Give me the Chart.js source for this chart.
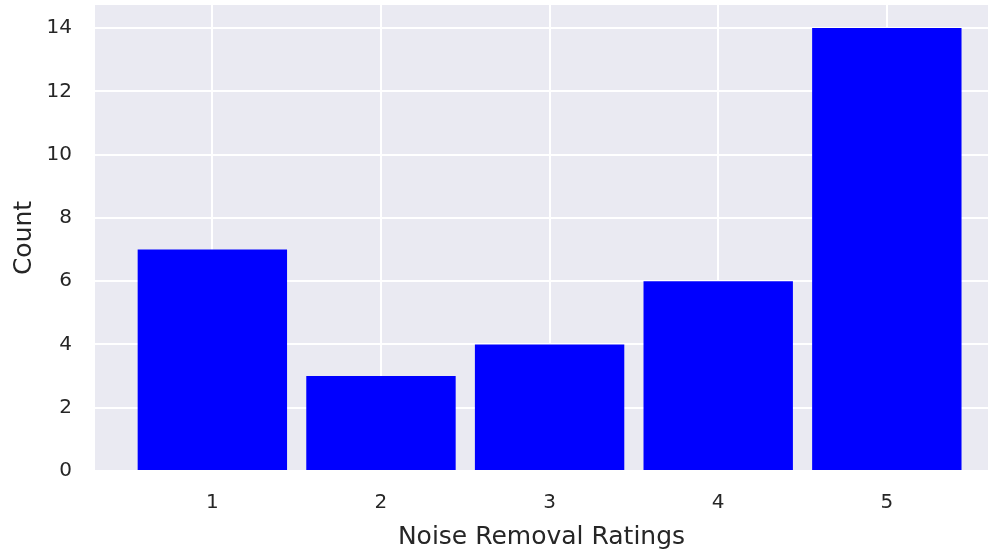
<!DOCTYPE html>
<html>
<head>
<meta charset="utf-8">
<script src="https://cdn.jsdelivr.net/npm/chart.js@4"></script>
<style>
  html, body { margin: 0; padding: 0; background: #ffffff; }
  #wrap { width: 988px; height: 552px; position: relative; }
</style>
</head>
<body>
<div id="wrap"><canvas id="c"></canvas></div>
<script>
// Data
const ratings = [1, 2, 3, 4, 5];
const counts = [7, 3, 4, 6, 14];
const yTicks = [0, 2, 4, 6, 8, 10, 12, 14];
const xTitle = "Noise Removal Ratings";
const yTitle = "Count";

const textColor = "#262626";
const fontFamily = "'DejaVu Sans', sans-serif";

const plotBg = {
  id: "plotBg",
  beforeDraw(chart) {
    const { ctx, chartArea: a } = chart;
    ctx.save();
    ctx.fillStyle = "#EAEAF2";
    ctx.fillRect(a.left, a.top, a.right - a.left, a.bottom - a.top);
    ctx.restore();
  }
};

new Chart(document.getElementById("c"), {
  type: "bar",
  data: {
    datasets: [{
      data: ratings.map((r, i) => ({ x: r, y: counts[i] })),
      backgroundColor: "#0000FF",
      borderWidth: 0,
      barPercentage: 0.886,
      categoryPercentage: 1.0
    }]
  },
  options: {
    responsive: true,
    maintainAspectRatio: false,
    devicePixelRatio: 1,
    animation: false,
    layout: { padding: { top: 5, right: 0, bottom: 0, left: 0 } },
    plugins: { legend: { display: false }, tooltip: { enabled: false } },
    scales: {
      x: {
        type: "linear",
        offset: false,
        min: 0.304,
        max: 5.6,
        afterBuildTicks(scale) { scale.ticks = ratings.map(v => ({ value: v })); },
        afterFit(scale) { scale.height = 81; scale.paddingLeft = 0; scale.paddingRight = 0; },
        grid: { color: "#FFFFFF", lineWidth: 2, drawTicks: false, offset: false },
        border: { display: false },
        ticks: {
          color: textColor,
          font: { family: fontFamily, size: 20 },
          padding: 20,
          callback: v => String(v)
        },
        title: {
          display: true,
          text: xTitle,
          color: textColor,
          font: { family: fontFamily, size: 25 },
          padding: { top: 0, bottom: 0 }
        }
      },
      y: {
        type: "linear",
        min: 0,
        max: 14.73,
        afterBuildTicks(scale) { scale.ticks = yTicks.map(v => ({ value: v })); },
        afterFit(scale) { scale.width = 95; scale.paddingTop = 0; scale.paddingBottom = 0; },
        grid: { color: "#FFFFFF", lineWidth: 2, drawTicks: false },
        border: { display: false },
        ticks: {
          color: textColor,
          font: { family: fontFamily, size: 20 },
          padding: 23
        },
        title: {
          display: true,
          text: yTitle,
          color: textColor,
          font: { family: fontFamily, size: 25 },
          padding: { top: 9, bottom: 0 }
        }
      }
    }
  },
  plugins: [plotBg]
});
</script>
</body>
</html>
